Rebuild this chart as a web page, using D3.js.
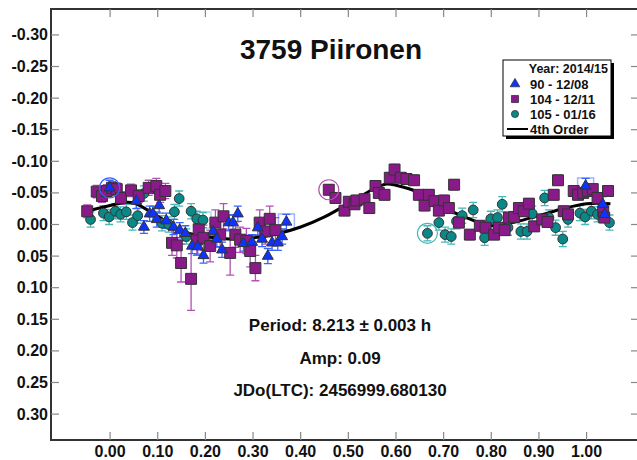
<!DOCTYPE html>
<meta charset='utf-8'>
<style>
  body { margin: 0; background: #fff; }
  text { font-family: 'Liberation Sans', Arial, sans-serif; font-weight: bold; fill: #111; }
</style>
<svg width='637' height='460'></svg>
<script src="https://d3js.org/d3.v7.min.js"></script>
<script>
  // [phase, mag, err]
  var blueData = [
    [-0.001,-0.058,0.012],[0.055,-0.037,0.012],[0.071,0.004,0.010],[0.083,-0.017,0.012],
    [0.090,-0.017,0.012],[0.098,-0.008,0.012],[0.103,-0.030,0.012],[0.118,-0.006,0.012],
    [0.133,0.004,0.012],[0.146,0.009,0.012],[0.158,0.014,0.012],[0.172,0.034,0.012],
    [0.184,0.035,0.012],[0.196,0.049,0.012],[0.216,0.011,0.012],[0.224,0.023,0.012],
    [0.235,0.040,0.012],[0.249,-0.003,0.012],[0.258,-0.003,0.012],[0.268,-0.017,0.012],
    [0.280,0.030,0.012],[0.298,0.028,0.012],[0.310,0.005,0.012],[0.319,0.023,0.012],
    [0.331,0.050,0.012],[0.340,0.029,0.012],[0.352,0.029,0.012],[0.361,0.019,0.012],
    [0.370,-0.004,0.012],[0.998,-0.061,0.012],[1.034,-0.032,0.012],[1.038,-0.016,0.012]
  ];
  var purpleData = [
    [-0.048,-0.021,0.010],[-0.028,-0.052,0.010],[-0.017,-0.045,0.010],[-0.007,-0.053,0.010],
    [0.004,-0.058,0.010],[0.014,-0.056,0.010],[0.023,-0.042,0.010],[0.044,-0.054,0.010],
    [0.060,-0.045,0.010],[0.081,-0.058,0.012],[0.097,-0.061,0.012],[0.105,-0.047,0.012],
    [0.116,-0.053,0.012],[0.130,0.029,0.020],[0.140,0.033,0.020],[0.149,0.061,0.030],
    [0.170,0.086,0.050],[0.182,0.024,0.025],[0.186,0.008,0.020],[0.196,0.021,0.020],
    [0.210,0.034,0.025],[0.221,-0.003,0.020],[0.231,0.016,0.020],[0.238,-0.013,0.020],
    [0.252,0.045,0.035],[0.263,0.016,0.020],[0.273,0.024,0.020],[0.286,0.026,0.020],
    [0.294,0.042,0.025],[0.305,0.069,0.020],[0.314,-0.003,0.020],[0.326,0.011,0.020],
    [0.335,-0.009,0.020],[0.347,0.009,0.020],
    [0.459,-0.055,0.008],[0.473,-0.042,0.008],[0.492,-0.022,0.008],[0.501,-0.036,0.008],
    [0.513,-0.032,0.008],[0.517,-0.038,0.008],[0.534,-0.040,0.008],[0.544,-0.026,0.008],
    [0.557,-0.061,0.008],[0.564,-0.050,0.008],[0.576,-0.047,0.008],[0.587,-0.074,0.008],
    [0.597,-0.087,0.008],[0.610,-0.074,0.008],[0.622,-0.072,0.008],[0.638,-0.070,0.008],
    [0.648,-0.047,0.008],[0.660,-0.030,0.008],[0.669,-0.047,0.008],[0.681,-0.037,0.008],
    [0.690,-0.022,0.008],[0.701,-0.038,0.008],[0.711,-0.026,0.008],[0.722,-0.063,0.008],
    [0.732,-0.003,0.008],[0.755,0.016,0.008],[0.776,0.002,0.008],[0.788,0.005,0.008],
    [0.806,0.016,0.008],[0.816,0.005,0.008],[0.828,0.009,0.008],[0.837,-0.011,0.008],
    [0.848,-0.012,0.008],[0.858,-0.026,0.008],[0.868,-0.021,0.008],[0.879,-0.033,0.008],
    [0.890,0.003,0.008],[0.907,-0.008,0.008],[0.918,-0.004,0.008],[0.931,-0.047,0.008],
    [0.940,-0.070,0.008],[0.952,-0.021,0.008],[0.961,-0.016,0.008],[0.973,-0.053,0.008],
    [0.982,-0.047,0.008],[0.993,-0.050,0.008],[1.003,-0.053,0.008],[1.013,-0.056,0.008],
    [1.023,-0.042,0.008],[1.035,-0.021,0.008],[1.037,-0.011,0.008],[1.045,-0.053,0.008]
  ];
  var tealData = [
    [-0.041,-0.008,0.012],[-0.014,-0.018,0.012],[-0.002,-0.012,0.012],[0.011,-0.021,0.012],
    [0.022,-0.016,0.012],[0.034,-0.020,0.012],[0.047,-0.003,0.012],[0.058,-0.014,0.012],
    [0.071,-0.049,0.012],[0.109,-0.002,0.012],[0.123,0.000,0.012],[0.135,-0.020,0.012],
    [0.145,-0.041,0.012],[0.160,0.019,0.012],[0.170,-0.021,0.012],[0.182,-0.009,0.012],
    [0.195,-0.007,0.012],
    [0.666,0.014,0.012],[0.690,-0.003,0.012],[0.703,0.016,0.012],[0.716,0.019,0.012],
    [0.727,-0.005,0.012],[0.739,-0.014,0.012],[0.762,-0.023,0.012],[0.786,0.021,0.012],
    [0.799,-0.009,0.012],[0.813,-0.011,0.012],[0.823,-0.032,0.012],[0.835,0.005,0.012],
    [0.862,0.011,0.012],[0.875,0.011,0.012],[0.886,-0.017,0.012],[0.912,-0.042,0.012],
    [0.921,-0.011,0.012],[0.935,0.005,0.012],[0.950,0.023,0.012],[0.961,-0.008,0.012],
    [0.986,-0.018,0.012],[0.997,-0.012,0.012],[1.010,-0.021,0.012],[1.023,-0.016,0.012],
    [1.048,-0.003,0.012]
  ];
  // points marked with a ring / a light box in the original plot: [series, phase, mag]
  var ringed = [['blue',-0.001,-0.058],['purple',0.459,-0.055],['teal',0.666,0.014]];
  var boxed = [['blue',0.370,-0.004],['blue',0.998,-0.061],['teal',0.195,-0.007]];

  // 4th order Fourier fit
  var fitPhase = [-0.05,0.00,0.03,0.05,0.10,0.15,0.20,0.25,0.30,0.35,0.40,0.45,0.50,0.55,0.58,0.60,0.65,0.70,0.75,0.80,0.85,0.90,0.95,1.00,1.05];
  var fitMag = [-0.021,-0.030,-0.035,-0.034,-0.013,0.010,0.019,0.023,0.021,0.015,0.004,-0.012,-0.033,-0.055,-0.064,-0.062,-0.050,-0.027,-0.010,0.002,-0.004,-0.014,-0.025,-0.033,-0.033];

  var xTicks = [0,0.1,0.2,0.3,0.4,0.5,0.6,0.7,0.8,0.9,1.0];
  var yTicks = [-0.30,-0.25,-0.20,-0.15,-0.10,-0.05,0,0.05,0.10,0.15,0.20,0.25,0.30];
  var legendRows = ['90 - 12/08','104 - 12/11','105 - 01/16','4th Order'];
  var infoLines = ['Period: 8.213 \u00b1 0.003 h','Amp: 0.09','JDo(LTC): 2456999.680130'];

  var svg = d3.select('svg');
  var L = 51, T = 9, R = 639, B = 440;

  var x = d3.scaleLinear().domain([-0.124, 1.110]).range([L, R]);
  var y = d3.scaleLinear().domain([-0.341, 0.341]).range([T, B]);

  var col = {
    blue:   { fill: '#0f32ff', bar: '#3a62ff', light: '#9fb4ff' },
    purple: { fill: '#8a1a8a', bar: '#b451b4', light: '#d8a6d8' },
    teal:   { fill: '#0a8888', bar: '#45b8b8', light: '#a6dcdc' }
  };
  var fmt = function(d) { return (d < 0 ? '-' : '') + Math.abs(d).toFixed(2); };

  // frame
  svg.append('rect')
    .attr('x', L).attr('y', T).attr('width', R - L).attr('height', B - T)
    .attr('fill', 'none').attr('stroke', '#333').attr('stroke-width', 2);

  // ticks on all 4 sides, pointing inside
  var g = svg.append('g').attr('stroke', '#888').attr('stroke-width', 1.2);
  xTicks.forEach(function(d) {
    g.append('line').attr('x1', x(d)).attr('x2', x(d)).attr('y1', B).attr('y2', B - 8);
    g.append('line').attr('x1', x(d)).attr('x2', x(d)).attr('y1', T).attr('y2', T + 8);
  });
  yTicks.forEach(function(d) {
    g.append('line').attr('x1', L).attr('x2', L + 8).attr('y1', y(d)).attr('y2', y(d));
    g.append('line').attr('x1', R).attr('x2', R - 8).attr('y1', y(d)).attr('y2', y(d));
  });

  svg.append('g').selectAll('text').data(xTicks).enter().append('text')
    .attr('x', function(d) { return x(d); })
    .attr('y', 457)
    .attr('text-anchor', 'middle')
    .style('font-size', '16px')
    .text(fmt);

  svg.append('g').selectAll('text').data(yTicks).enter().append('text')
    .attr('x', 48)
    .attr('y', function(d) { return y(d) + 5.5; })
    .attr('text-anchor', 'end')
    .style('font-size', '16px')
    .text(fmt);

  // title + info
  svg.append('text').attr('x', 331).attr('y', 59).attr('text-anchor', 'middle')
    .style('font-size', '28px').text('3759 Piironen');

  svg.selectAll('.info').data(infoLines).enter().append('text')
    .attr('class', 'info')
    .attr('x', 340)
    .attr('y', function(d, i) { return 331 + i * 32.5; })
    .attr('text-anchor', 'middle')
    .style('font-size', '17px')
    .text(function(d) { return d; });

  var series = [
    { key: 'teal', data: tealData, shape: 'circle' },
    { key: 'purple', data: purpleData, shape: 'square' },
    { key: 'blue', data: blueData, shape: 'triangle' }
  ];

  var plot = svg.append('g');

  // light boxes behind flagged points
  plot.selectAll('.box').data(boxed).enter().append('rect')
    .attr('x', function(d) { return x(d[1]) - 8; })
    .attr('y', function(d) { return y(d[2]) - 8; })
    .attr('width', 16).attr('height', 16)
    .attr('fill', 'none')
    .attr('stroke', function(d) { return col[d[0]].light; })
    .attr('stroke-width', 1.5);

  // error bars
  series.forEach(function(s) {
    var eb = plot.append('g').attr('stroke', col[s.key].bar).attr('stroke-width', 1.3).attr('fill', 'none');
    eb.selectAll('path').data(s.data).enter().append('path')
      .attr('d', function(d) {
        var cx = x(d[0]), y1 = y(d[1] - d[2]), y2 = y(d[1] + d[2]);
        return 'M' + cx + ',' + y1 + 'V' + y2 +
          'M' + (cx - 4) + ',' + y1 + 'H' + (cx + 4) +
          'M' + (cx - 4) + ',' + y2 + 'H' + (cx + 4);
      });
  });

  // fit curve
  var fit = fitPhase.map(function(p, i) { return [p, fitMag[i]]; });
  var line = d3.line()
    .x(function(d) { return x(d[0]); })
    .y(function(d) { return y(d[1]); })
    .curve(d3.curveCatmullRom);
  plot.append('path').datum(fit)
    .attr('d', line)
    .attr('fill', 'none').attr('stroke', '#000').attr('stroke-width', 3);

  // markers
  var sym = {
    circle: d3.symbol().type(d3.symbolCircle).size(75),
    square: d3.symbol().type(d3.symbolSquare).size(120),
    triangle: d3.symbol().type(d3.symbolTriangle).size(52)
  };
  series.forEach(function(s) {
    plot.append('g').selectAll('path').data(s.data).enter().append('path')
      .attr('transform', function(d) { return 'translate(' + x(d[0]) + ',' + y(d[1]) + ')'; })
      .attr('d', sym[s.shape])
      .attr('fill', col[s.key].fill)
      .attr('stroke', '#333')
      .attr('stroke-width', 1);
  });

  // rings around flagged points
  plot.selectAll('.ring').data(ringed).enter().append('circle')
    .attr('cx', function(d) { return x(d[1]); })
    .attr('cy', function(d) { return y(d[2]); })
    .attr('r', 10)
    .attr('fill', 'none')
    .attr('stroke', function(d) { return col[d[0]].bar; })
    .attr('stroke-width', 1.2);

  // legend
  var lg = svg.append('g');
  lg.append('rect').attr('x', 506).attr('y', 63).attr('width', 108).attr('height', 76).attr('fill', '#000');
  lg.append('rect').attr('x', 503).attr('y', 60).attr('width', 108).attr('height', 76)
    .attr('fill', '#fff').attr('stroke', '#000').attr('stroke-width', 1);
  lg.append('text').attr('x', 608).attr('y', 73).attr('text-anchor', 'end')
    .style('font-size', '12.5px').text('Year: 2014/15');
  var legendShapes = ['triangle', 'square', 'circle', 'line'];
  var legendKeys = ['blue', 'purple', 'teal', null];
  legendRows.forEach(function(t, i) {
    var cy = 84 + i * 15;
    if (legendShapes[i] === 'line') {
      lg.append('line').attr('x1', 507).attr('x2', 528).attr('y1', cy).attr('y2', cy)
        .attr('stroke', '#000').attr('stroke-width', 2);
    } else {
      var sz = { triangle: 40, square: 50, circle: 40 }[legendShapes[i]];
      var type = { triangle: d3.symbolTriangle, square: d3.symbolSquare, circle: d3.symbolCircle }[legendShapes[i]];
      lg.append('path').attr('transform', 'translate(515,' + cy + ')')
        .attr('d', d3.symbol().type(type).size(sz))
        .attr('fill', col[legendKeys[i]].fill).attr('stroke', '#333').attr('stroke-width', 0.8);
    }
    lg.append('text').attr('x', 530).attr('y', cy + 5)
      .style('font-size', '13px').text(t);
  });
</script>
